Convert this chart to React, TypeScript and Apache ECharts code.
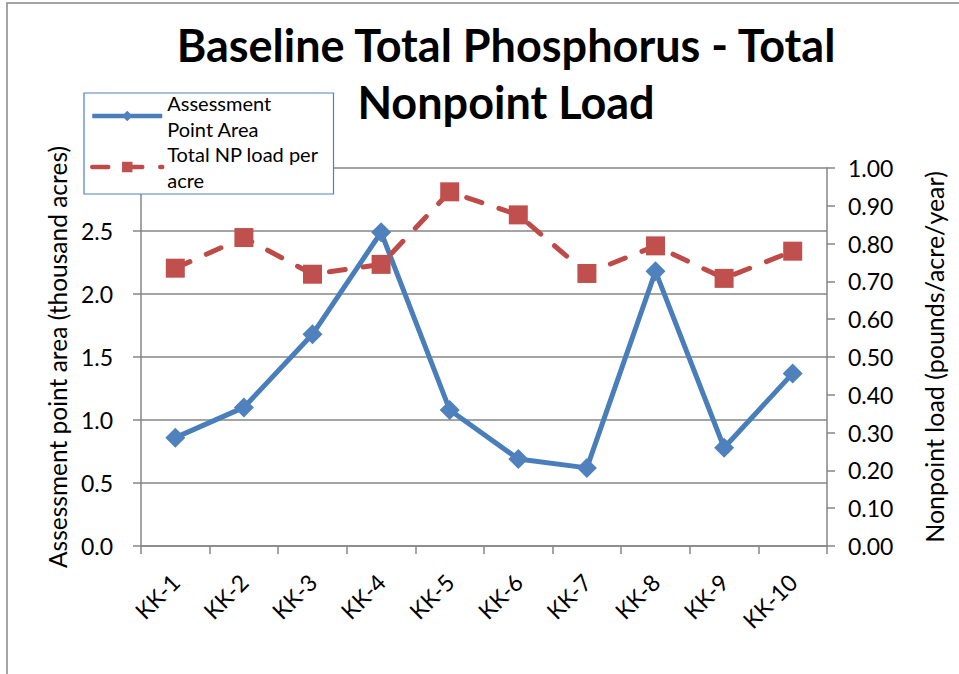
import React, { useEffect, useRef } from "react";
import * as echarts from "echarts";

const categories = ["KK-1", "KK-2", "KK-3", "KK-4", "KK-5", "KK-6", "KK-7", "KK-8", "KK-9", "KK-10"];
const areaValues = [0.86, 1.1, 1.68, 2.49, 1.08, 0.69, 0.62, 2.18, 0.78, 1.37];
const loadValues = [0.735, 0.816, 0.719, 0.745, 0.937, 0.876, 0.721, 0.794, 0.708, 0.78];
const seriesNames = ["Assessment Point Area", "Total NP load per acre"];
const legendLabels: Record<string, string> = {
  "Assessment Point Area": "Assessment\nPoint Area",
  "Total NP load per acre": "Total NP load per\nacre",
};
const titleText = "Baseline Total Phosphorus - Total\nNonpoint Load";
const leftAxisName = "Assessment point area (thousand acres)";
const rightAxisName = "Nonpoint load (pounds/acre/year)";

const FONT = "Lato";
const GRAY = "#868686";

export default function App() {
  const ref = useRef<HTMLDivElement>(null);
  useEffect(() => {
    if (!ref.current) return;
    const chart = echarts.init(ref.current, undefined, { renderer: "svg" });
    chart.setOption({
      animation: false,
      backgroundColor: "#ffffff",
      textStyle: { fontFamily: FONT },
      title: {
        text: titleText,
        left: 506,
        top: 16,
        padding: 0,
        textAlign: "center",
        textStyle: { fontFamily: FONT, fontWeight: "bold", fontSize: 45, lineHeight: 57, color: "#000" },
      },
      graphic: [
        {
          type: "rect",
          silent: true,
          z: -10,
          shape: { x: 7, y: 3, width: 1200, height: 1000 },
          style: { fill: "none", stroke: GRAY, lineWidth: 1.5 },
        },
      ],
      legend: {
        orient: "vertical",
        left: 84,
        top: 93,
        padding: [0, 15, 4, 6],
        itemGap: 5,
        itemWidth: 70,
        itemHeight: 13,
        backgroundColor: "#ffffff",
        borderColor: "#4F81BD",
        borderWidth: 1.2,
        borderRadius: 0,
        z: 10,
        data: seriesNames,
        lineStyle: { width: 4.5 },
        formatter: (name: string) => legendLabels[name] || name,
        textStyle: { fontFamily: FONT, fontSize: 20, color: "#000", lineHeight: 26, padding: [0, 0, -26, 0] },
      },
      grid: { left: 141, right: 132, top: 168, bottom: 128, containLabel: false },
      xAxis: {
        type: "category",
        data: categories,
        boundaryGap: true,
        axisLine: { lineStyle: { color: GRAY, width: 1.5 } },
        axisTick: { show: true, length: 8, lineStyle: { color: GRAY, width: 1.5 } },
        axisLabel: {
          rotate: 45,
          margin: 32,
          padding: [27, 0, 0, 0],
          fontFamily: FONT,
          fontSize: 23,
          lineHeight: 27,
          color: "#000",
          interval: 0,
        },
      },
      yAxis: [
        {
          type: "value",
          min: 0,
          max: 3,
          interval: 0.5,
          position: "left",
          name: leftAxisName,
          nameLocation: "middle",
          nameGap: 64,
          nameRotate: 90,
          nameTextStyle: { fontFamily: FONT, fontSize: 24.5, color: "#000" },
          axisLine: { show: true, lineStyle: { color: GRAY, width: 1.5 } },
          axisTick: { show: true, length: 8, lineStyle: { color: GRAY, width: 1.5 } },
          axisLabel: {
            margin: 28,
            fontFamily: FONT,
            fontSize: 23,
            color: "#000",
            showMaxLabel: false,
            formatter: (v: number) => v.toFixed(1),
          },
          splitLine: { show: true, lineStyle: { color: GRAY, width: 1.5 } },
        },
        {
          type: "value",
          min: 0,
          max: 1,
          interval: 0.1,
          position: "right",
          name: rightAxisName,
          nameLocation: "middle",
          nameGap: 94,
          nameRotate: 90,
          nameTextStyle: { fontFamily: FONT, fontSize: 25, color: "#000" },
          axisLine: { show: true, lineStyle: { color: GRAY, width: 1.5 } },
          axisTick: { show: true, length: 8, lineStyle: { color: GRAY, width: 1.5 } },
          axisLabel: {
            margin: 21,
            fontFamily: FONT,
            fontSize: 23,
            color: "#000",
            formatter: (v: number) => v.toFixed(2),
          },
          splitLine: { show: false },
        },
      ],
      series: [
        {
          name: seriesNames[0],
          type: "line",
          yAxisIndex: 0,
          data: areaValues,
          symbol: "diamond",
          symbolSize: 20,
          lineStyle: { color: "#4A7EBB", width: 5 },
          itemStyle: { color: "#4F81BD" },
          z: 3,
        },
        {
          name: seriesNames[1],
          type: "line",
          yAxisIndex: 1,
          data: loadValues,
          symbol: "rect",
          symbolSize: 19,
          lineStyle: { color: "#BE4B48", width: 5, type: [16, 18], cap: "round" },
          itemStyle: { color: "#C0504D" },
          z: 4,
        },
      ],
    });
    return () => chart.dispose();
  }, []);
  return <div ref={ref} style={{ position: "fixed", left: 0, top: 0, width: 959, height: 674 }} />;
}
